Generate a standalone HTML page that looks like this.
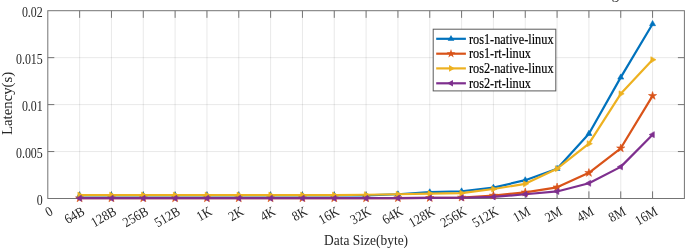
<!DOCTYPE html>
<html lang="en"><head><meta charset="utf-8"><title>Latency vs Data Size</title>
<style>html,body{margin:0;padding:0;background:#fff}body{width:685px;height:248px;overflow:hidden}</style></head>
<body>
<svg width="685" height="248" viewBox="0 0 685 248" style="display:block;font-family:'Liberation Serif',serif">
<rect width="685" height="248" fill="#fff"/>
<path d="M79.63 10.7 V198.5 M111.46 10.7 V198.5 M143.29 10.7 V198.5 M175.12 10.7 V198.5 M206.95 10.7 V198.5 M238.78 10.7 V198.5 M270.61 10.7 V198.5 M302.44 10.7 V198.5 M334.27 10.7 V198.5 M366.10 10.7 V198.5 M397.93 10.7 V198.5 M429.76 10.7 V198.5 M461.59 10.7 V198.5 M493.42 10.7 V198.5 M525.25 10.7 V198.5 M557.08 10.7 V198.5 M588.91 10.7 V198.5 M620.74 10.7 V198.5 M652.57 10.7 V198.5 M47.8 151.55 H684.4 M47.8 104.60 H684.4 M47.8 57.65 H684.4" stroke="#262626" stroke-opacity="0.13" stroke-width="0.8" fill="none"/>
<rect x="47.8" y="10.7" width="636.60" height="187.80" fill="none" stroke="#747474" stroke-width="1"/>
<path d="M79.63 10.7 v7.15 M79.63 198.5 v-7.15 M111.46 10.7 v7.15 M111.46 198.5 v-7.15 M143.29 10.7 v7.15 M143.29 198.5 v-7.15 M175.12 10.7 v7.15 M175.12 198.5 v-7.15 M206.95 10.7 v7.15 M206.95 198.5 v-7.15 M238.78 10.7 v7.15 M238.78 198.5 v-7.15 M270.61 10.7 v7.15 M270.61 198.5 v-7.15 M302.44 10.7 v7.15 M302.44 198.5 v-7.15 M334.27 10.7 v7.15 M334.27 198.5 v-7.15 M366.10 10.7 v7.15 M366.10 198.5 v-7.15 M397.93 10.7 v7.15 M397.93 198.5 v-7.15 M429.76 10.7 v7.15 M429.76 198.5 v-7.15 M461.59 10.7 v7.15 M461.59 198.5 v-7.15 M493.42 10.7 v7.15 M493.42 198.5 v-7.15 M525.25 10.7 v7.15 M525.25 198.5 v-7.15 M557.08 10.7 v7.15 M557.08 198.5 v-7.15 M588.91 10.7 v7.15 M588.91 198.5 v-7.15 M620.74 10.7 v7.15 M620.74 198.5 v-7.15 M652.57 10.7 v7.15 M652.57 198.5 v-7.15 M47.8 151.55 h6.5 M684.4 151.55 h-6.5 M47.8 104.60 h6.5 M684.4 104.60 h-6.5 M47.8 57.65 h6.5 M684.4 57.65 h-6.5" stroke="#747474" stroke-width="1" fill="none"/>
<path d="M79.63 195.50 L111.46 195.50 L143.29 195.50 L175.12 195.50 L206.95 195.50 L238.78 195.50 L270.61 195.50 L302.44 195.50 L334.27 195.50 L366.10 195.40 L397.93 194.27 L429.76 192.21 L461.59 191.27 L493.42 187.61 L525.25 180.19 L557.08 168.73 L588.91 133.71 L620.74 77.37 L652.57 23.94" stroke="#0072BD" stroke-width="2.2" fill="none" stroke-linejoin="round"/>
<path d="M79.63 192.05 L82.63 197.24 L76.63 197.24Z M111.46 192.05 L114.46 197.24 L108.46 197.24Z M143.29 192.05 L146.29 197.24 L140.29 197.24Z M175.12 192.05 L178.12 197.24 L172.12 197.24Z M206.95 192.05 L209.95 197.24 L203.95 197.24Z M238.78 192.05 L241.78 197.24 L235.78 197.24Z M270.61 192.05 L273.61 197.24 L267.61 197.24Z M302.44 192.05 L305.44 197.24 L299.44 197.24Z M334.27 192.05 L337.27 197.24 L331.27 197.24Z M366.10 191.95 L369.10 197.14 L363.10 197.14Z M397.93 190.82 L400.93 196.01 L394.93 196.01Z M429.76 188.76 L432.76 193.95 L426.76 193.95Z M461.59 187.82 L464.59 193.01 L458.59 193.01Z M493.42 184.16 L496.42 189.35 L490.42 189.35Z M525.25 176.74 L528.25 181.93 L522.25 181.93Z M557.08 165.28 L560.08 170.47 L554.08 170.47Z M588.91 130.26 L591.91 135.45 L585.91 135.45Z M620.74 73.92 L623.74 79.11 L617.74 79.11Z M652.57 20.49 L655.57 25.68 L649.57 25.68Z" fill="#0072BD" stroke="#0072BD" stroke-width="0.6" stroke-linejoin="miter"/>
<path d="M79.63 198.22 L111.46 198.22 L143.29 198.22 L175.12 198.22 L206.95 198.22 L238.78 198.22 L270.61 198.22 L302.44 198.22 L334.27 198.22 L366.10 198.22 L397.93 198.12 L429.76 197.94 L461.59 197.56 L493.42 195.59 L525.25 192.40 L557.08 187.33 L588.91 172.87 L620.74 148.26 L652.57 95.87" stroke="#D95319" stroke-width="2.2" fill="none" stroke-linejoin="round"/>
<path d="M79.63 193.92 L80.60 196.89 L83.72 196.89 L81.19 198.73 L82.16 201.70 L79.63 199.86 L77.10 201.70 L78.07 198.73 L75.54 196.89 L78.66 196.89Z M111.46 193.92 L112.43 196.89 L115.55 196.89 L113.02 198.73 L113.99 201.70 L111.46 199.86 L108.93 201.70 L109.90 198.73 L107.37 196.89 L110.49 196.89Z M143.29 193.92 L144.26 196.89 L147.38 196.89 L144.85 198.73 L145.82 201.70 L143.29 199.86 L140.76 201.70 L141.73 198.73 L139.20 196.89 L142.32 196.89Z M175.12 193.92 L176.09 196.89 L179.21 196.89 L176.68 198.73 L177.65 201.70 L175.12 199.86 L172.59 201.70 L173.56 198.73 L171.03 196.89 L174.15 196.89Z M206.95 193.92 L207.92 196.89 L211.04 196.89 L208.51 198.73 L209.48 201.70 L206.95 199.86 L204.42 201.70 L205.39 198.73 L202.86 196.89 L205.98 196.89Z M238.78 193.92 L239.75 196.89 L242.87 196.89 L240.34 198.73 L241.31 201.70 L238.78 199.86 L236.25 201.70 L237.22 198.73 L234.69 196.89 L237.81 196.89Z M270.61 193.92 L271.58 196.89 L274.70 196.89 L272.17 198.73 L273.14 201.70 L270.61 199.86 L268.08 201.70 L269.05 198.73 L266.52 196.89 L269.64 196.89Z M302.44 193.92 L303.41 196.89 L306.53 196.89 L304.00 198.73 L304.97 201.70 L302.44 199.86 L299.91 201.70 L300.88 198.73 L298.35 196.89 L301.47 196.89Z M334.27 193.92 L335.24 196.89 L338.36 196.89 L335.83 198.73 L336.80 201.70 L334.27 199.86 L331.74 201.70 L332.71 198.73 L330.18 196.89 L333.30 196.89Z M366.10 193.92 L367.07 196.89 L370.19 196.89 L367.66 198.73 L368.63 201.70 L366.10 199.86 L363.57 201.70 L364.54 198.73 L362.01 196.89 L365.13 196.89Z M397.93 193.82 L398.90 196.80 L402.02 196.80 L399.49 198.63 L400.46 201.60 L397.93 199.77 L395.40 201.60 L396.37 198.63 L393.84 196.80 L396.96 196.80Z M429.76 193.64 L430.73 196.61 L433.85 196.61 L431.32 198.44 L432.29 201.42 L429.76 199.58 L427.23 201.42 L428.20 198.44 L425.67 196.61 L428.79 196.61Z M461.59 193.26 L462.56 196.23 L465.68 196.23 L463.15 198.07 L464.12 201.04 L461.59 199.20 L459.06 201.04 L460.03 198.07 L457.50 196.23 L460.62 196.23Z M493.42 191.29 L494.39 194.26 L497.51 194.26 L494.98 196.10 L495.95 199.07 L493.42 197.23 L490.89 199.07 L491.86 196.10 L489.33 194.26 L492.45 194.26Z M525.25 188.10 L526.22 191.07 L529.34 191.07 L526.81 192.90 L527.78 195.88 L525.25 194.04 L522.72 195.88 L523.69 192.90 L521.16 191.07 L524.28 191.07Z M557.08 183.03 L558.05 186.00 L561.17 186.00 L558.64 187.83 L559.61 190.80 L557.08 188.97 L554.55 190.80 L555.52 187.83 L552.99 186.00 L556.11 186.00Z M588.91 168.57 L589.88 171.54 L593.00 171.54 L590.47 173.37 L591.44 176.34 L588.91 174.51 L586.38 176.34 L587.35 173.37 L584.82 171.54 L587.94 171.54Z M620.74 143.96 L621.71 146.93 L624.83 146.93 L622.30 148.77 L623.27 151.74 L620.74 149.91 L618.21 151.74 L619.18 148.77 L616.65 146.93 L619.77 146.93Z M652.57 91.57 L653.54 94.54 L656.66 94.54 L654.13 96.37 L655.10 99.35 L652.57 97.51 L650.04 99.35 L651.01 96.37 L648.48 94.54 L651.60 94.54Z" fill="#D95319" stroke="#D95319" stroke-width="0.6" stroke-linejoin="miter"/>
<path d="M79.63 195.12 L111.46 195.12 L143.29 195.12 L175.12 195.12 L206.95 195.12 L238.78 195.12 L270.61 195.12 L302.44 195.12 L334.27 195.12 L366.10 194.74 L397.93 194.27 L429.76 193.62 L461.59 193.15 L493.42 189.02 L525.25 183.85 L557.08 168.73 L588.91 143.66 L620.74 93.80 L652.57 59.72" stroke="#EDB120" stroke-width="2.2" fill="none" stroke-linejoin="round"/>
<path d="M83.08 195.12 L77.89 192.12 L77.89 198.12Z M114.91 195.12 L109.72 192.12 L109.72 198.12Z M146.74 195.12 L141.55 192.12 L141.55 198.12Z M178.57 195.12 L173.38 192.12 L173.38 198.12Z M210.40 195.12 L205.21 192.12 L205.21 198.12Z M242.23 195.12 L237.04 192.12 L237.04 198.12Z M274.06 195.12 L268.87 192.12 L268.87 198.12Z M305.89 195.12 L300.70 192.12 L300.70 198.12Z M337.72 195.12 L332.53 192.12 L332.53 198.12Z M369.55 194.74 L364.36 191.74 L364.36 197.74Z M401.38 194.27 L396.19 191.27 L396.19 197.27Z M433.21 193.62 L428.02 190.62 L428.02 196.62Z M465.04 193.15 L459.85 190.15 L459.85 196.15Z M496.87 189.02 L491.68 186.02 L491.68 192.02Z M528.70 183.85 L523.51 180.85 L523.51 186.85Z M560.53 168.73 L555.34 165.73 L555.34 171.73Z M592.36 143.66 L587.17 140.66 L587.17 146.66Z M624.19 93.80 L619.00 90.80 L619.00 96.80Z M656.02 59.72 L650.83 56.72 L650.83 62.72Z" fill="#EDB120" stroke="#EDB120" stroke-width="0.6" stroke-linejoin="miter"/>
<path d="M79.63 198.22 L111.46 198.22 L143.29 198.22 L175.12 198.22 L206.95 198.22 L238.78 198.22 L270.61 198.22 L302.44 198.22 L334.27 198.22 L366.10 198.22 L397.93 198.03 L429.76 197.94 L461.59 197.75 L493.42 196.90 L525.25 194.27 L557.08 191.46 L588.91 183.29 L620.74 166.86 L652.57 134.65" stroke="#7E2F8E" stroke-width="2.2" fill="none" stroke-linejoin="round"/>
<path d="M76.18 198.22 L81.37 195.22 L81.37 201.22Z M108.01 198.22 L113.20 195.22 L113.20 201.22Z M139.84 198.22 L145.03 195.22 L145.03 201.22Z M171.67 198.22 L176.86 195.22 L176.86 201.22Z M203.50 198.22 L208.69 195.22 L208.69 201.22Z M235.33 198.22 L240.52 195.22 L240.52 201.22Z M267.16 198.22 L272.35 195.22 L272.35 201.22Z M298.99 198.22 L304.18 195.22 L304.18 201.22Z M330.82 198.22 L336.01 195.22 L336.01 201.22Z M362.65 198.22 L367.84 195.22 L367.84 201.22Z M394.48 198.03 L399.67 195.03 L399.67 201.03Z M426.31 197.94 L431.50 194.94 L431.50 200.94Z M458.14 197.75 L463.33 194.75 L463.33 200.75Z M489.97 196.90 L495.16 193.90 L495.16 199.90Z M521.80 194.27 L526.99 191.27 L526.99 197.27Z M553.63 191.46 L558.82 188.46 L558.82 194.46Z M585.46 183.29 L590.65 180.29 L590.65 186.29Z M617.29 166.86 L622.48 163.86 L622.48 169.86Z M649.12 134.65 L654.31 131.65 L654.31 137.65Z" fill="#7E2F8E" stroke="#7E2F8E" stroke-width="0.6" stroke-linejoin="miter"/>
<rect x="433.2" y="29.2" width="122.60" height="61.70" fill="#fff" stroke="#5a5a5a" stroke-width="1"/>
<path d="M436.2 38.8 H465.9" stroke="#0072BD" stroke-width="2.2"/>
<path d="M451.00 35.00 L454.30 40.71 L447.70 40.71Z" fill="#0072BD"/>
<text transform="translate(468.90 43.50) scale(1 1.12)" font-size="12.3" text-anchor="start" fill="#000" stroke="#000" stroke-width="0.15">ros1-native-linux</text>
<path d="M436.2 53.7 H465.9" stroke="#D95319" stroke-width="2.2"/>
<path d="M451.00 49.10 L452.03 52.28 L455.37 52.28 L452.67 54.24 L453.70 57.42 L451.00 55.46 L448.30 57.42 L449.33 54.24 L446.63 52.28 L449.97 52.28Z" fill="#D95319"/>
<text transform="translate(468.90 58.40) scale(1 1.12)" font-size="12.3" text-anchor="start" fill="#000" stroke="#000" stroke-width="0.15">ros1-rt-linux</text>
<path d="M436.2 68.4 H465.9" stroke="#EDB120" stroke-width="2.2"/>
<path d="M454.80 68.40 L449.09 65.10 L449.09 71.70Z" fill="#EDB120"/>
<text transform="translate(468.90 73.10) scale(1 1.12)" font-size="12.3" text-anchor="start" fill="#000" stroke="#000" stroke-width="0.15">ros2-native-linux</text>
<path d="M436.2 83.3 H465.9" stroke="#7E2F8E" stroke-width="2.2"/>
<path d="M447.20 83.30 L452.91 80.00 L452.91 86.60Z" fill="#7E2F8E"/>
<text transform="translate(468.90 88.00) scale(1 1.12)" font-size="12.3" text-anchor="start" fill="#000" stroke="#000" stroke-width="0.15">ros2-rt-linux</text>
<text transform="translate(42.80 204.60) scale(1 1.14)" font-size="11.95" text-anchor="end" fill="#262626" stroke="#262626" stroke-width="0">0</text>
<text transform="translate(42.80 157.65) scale(1 1.14)" font-size="11.95" text-anchor="end" fill="#262626" stroke="#262626" stroke-width="0">0.005</text>
<text transform="translate(42.80 110.70) scale(1 1.14)" font-size="11.95" text-anchor="end" fill="#262626" stroke="#262626" stroke-width="0">0.01</text>
<text transform="translate(42.80 63.75) scale(1 1.14)" font-size="11.95" text-anchor="end" fill="#262626" stroke="#262626" stroke-width="0">0.015</text>
<text transform="translate(42.80 16.80) scale(1 1.14)" font-size="11.95" text-anchor="end" fill="#262626" stroke="#262626" stroke-width="0">0.02</text>
<text transform="translate(53.80 214.00) rotate(-30) scale(1 1.12)" font-size="12.4" text-anchor="end" fill="#262626" stroke="#262626" stroke-width="0">0</text>
<text transform="translate(85.63 214.00) rotate(-30) scale(1 1.12)" font-size="12.4" text-anchor="end" fill="#262626" stroke="#262626" stroke-width="0">64B</text>
<text transform="translate(117.46 214.00) rotate(-30) scale(1 1.12)" font-size="12.4" text-anchor="end" fill="#262626" stroke="#262626" stroke-width="0">128B</text>
<text transform="translate(149.29 214.00) rotate(-30) scale(1 1.12)" font-size="12.4" text-anchor="end" fill="#262626" stroke="#262626" stroke-width="0">256B</text>
<text transform="translate(181.12 214.00) rotate(-30) scale(1 1.12)" font-size="12.4" text-anchor="end" fill="#262626" stroke="#262626" stroke-width="0">512B</text>
<text transform="translate(212.95 214.00) rotate(-30) scale(1 1.12)" font-size="12.4" text-anchor="end" fill="#262626" stroke="#262626" stroke-width="0">1K</text>
<text transform="translate(244.78 214.00) rotate(-30) scale(1 1.12)" font-size="12.4" text-anchor="end" fill="#262626" stroke="#262626" stroke-width="0">2K</text>
<text transform="translate(276.61 214.00) rotate(-30) scale(1 1.12)" font-size="12.4" text-anchor="end" fill="#262626" stroke="#262626" stroke-width="0">4K</text>
<text transform="translate(308.44 214.00) rotate(-30) scale(1 1.12)" font-size="12.4" text-anchor="end" fill="#262626" stroke="#262626" stroke-width="0">8K</text>
<text transform="translate(340.27 214.00) rotate(-30) scale(1 1.12)" font-size="12.4" text-anchor="end" fill="#262626" stroke="#262626" stroke-width="0">16K</text>
<text transform="translate(372.10 214.00) rotate(-30) scale(1 1.12)" font-size="12.4" text-anchor="end" fill="#262626" stroke="#262626" stroke-width="0">32K</text>
<text transform="translate(403.93 214.00) rotate(-30) scale(1 1.12)" font-size="12.4" text-anchor="end" fill="#262626" stroke="#262626" stroke-width="0">64K</text>
<text transform="translate(435.76 214.00) rotate(-30) scale(1 1.12)" font-size="12.4" text-anchor="end" fill="#262626" stroke="#262626" stroke-width="0">128K</text>
<text transform="translate(467.59 214.00) rotate(-30) scale(1 1.12)" font-size="12.4" text-anchor="end" fill="#262626" stroke="#262626" stroke-width="0">256K</text>
<text transform="translate(499.42 214.00) rotate(-30) scale(1 1.12)" font-size="12.4" text-anchor="end" fill="#262626" stroke="#262626" stroke-width="0">512K</text>
<text transform="translate(531.25 214.00) rotate(-30) scale(1 1.12)" font-size="12.4" text-anchor="end" fill="#262626" stroke="#262626" stroke-width="0">1M</text>
<text transform="translate(563.08 214.00) rotate(-30) scale(1 1.12)" font-size="12.4" text-anchor="end" fill="#262626" stroke="#262626" stroke-width="0">2M</text>
<text transform="translate(594.91 214.00) rotate(-30) scale(1 1.12)" font-size="12.4" text-anchor="end" fill="#262626" stroke="#262626" stroke-width="0">4M</text>
<text transform="translate(626.74 214.00) rotate(-30) scale(1 1.12)" font-size="12.4" text-anchor="end" fill="#262626" stroke="#262626" stroke-width="0">8M</text>
<text transform="translate(658.57 214.00) rotate(-30) scale(1 1.12)" font-size="12.4" text-anchor="end" fill="#262626" stroke="#262626" stroke-width="0">16M</text>
<text transform="translate(366.10 244.60) scale(1 1.05)" font-size="13.45" text-anchor="middle" fill="#262626" stroke="#262626" stroke-width="0">Data Size(byte)</text>
<text transform="translate(12.00 103.40) rotate(-90) scale(1.1 1.05)" font-size="13.45" text-anchor="middle" fill="#262626" stroke="#262626" stroke-width="0">Latency(s)</text>
<text x="611.8" y="-0.8" font-size="14.5" fill="#222">g</text>
</svg>
</body></html>
